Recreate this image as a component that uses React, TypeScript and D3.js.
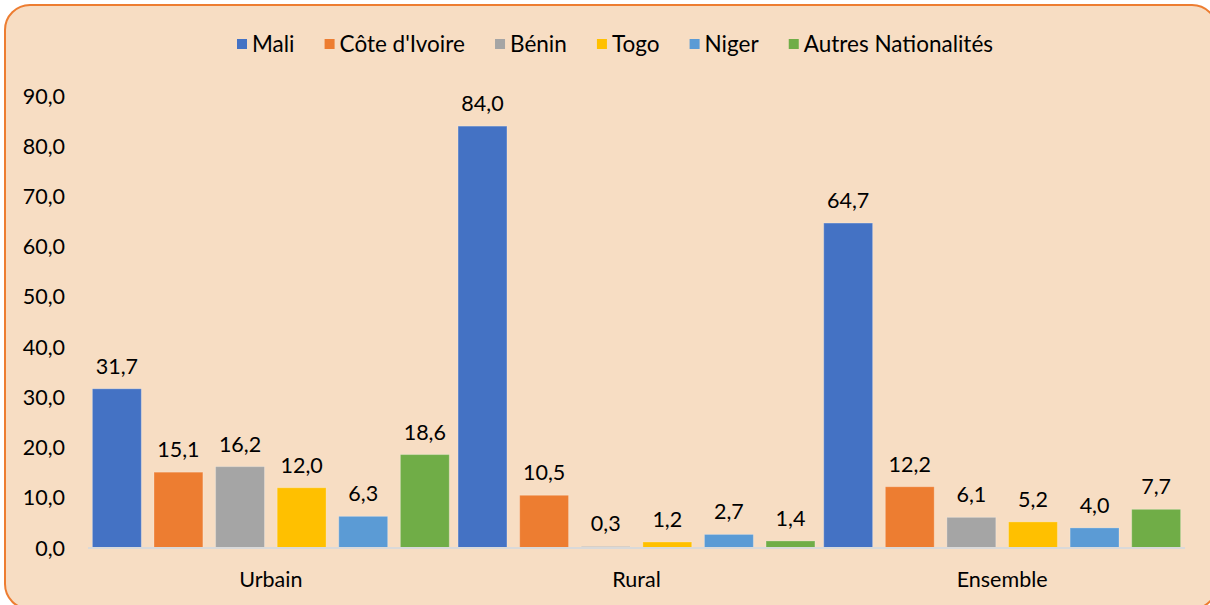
import React, { useEffect, useRef } from "react";
import * as d3 from "d3";

const categories = ["Urbain", "Rural", "Ensemble"];
const seriesNames = ["Mali", "Côte d'Ivoire", "Bénin", "Togo", "Niger", "Autres Nationalités"];
const seriesColors = ["#4472C4", "#ED7D31", "#A5A5A5", "#FFC000", "#5B9BD5", "#70AD47"];
const mali = [31.7, 84.0, 64.7];
const coteIvoire = [15.1, 10.5, 12.2];
const benin = [16.2, 0.3, 6.1];
const togo = [12.0, 1.2, 5.2];
const niger = [6.3, 2.7, 4.0];
const autres = [18.6, 1.4, 7.7];
const yTicks = [0, 10, 20, 30, 40, 50, 60, 70, 80, 90];

const W = 1210;
const H = 605;
const FONT = "Lato, 'Open Sans', sans-serif";
const FS = 21.5;

export default function App() {
  const ref = useRef<SVGSVGElement | null>(null);

  useEffect(() => {
    const svg = d3.select(ref.current);
    svg.selectAll("*").remove();
    const series = [mali, coteIvoire, benin, togo, niger, autres];
    const fmt = (v: number) => v.toFixed(1).replace(".", ",");

    svg
      .append("rect")
      .attr("x", 5)
      .attr("y", 5)
      .attr("width", 1212)
      .attr("height", 604)
      .attr("rx", 25)
      .attr("fill", "#F7DDC3")
      .attr("stroke", "#ED7D31")
      .attr("stroke-width", 2);

    const left = 88;
    const right = 1185;
    const y = d3.scaleLinear().domain([0, 90]).range([548, 96]);
    const x0 = d3.scaleBand<string>().domain(categories).range([left, right]).paddingInner(0).paddingOuter(0);
    const band = x0.bandwidth();
    const barW = band / (6 + 5 * 0.26 + 0.18);
    const step = barW * 1.26;
    const groupPad = (band - (5 * step + barW)) / 2;

    const g = svg.append("g");
    series.forEach((vals, si) => {
      vals.forEach((v, ci) => {
        const bx = (x0(categories[ci]) as number) + groupPad + si * step;
        g.append("rect")
          .attr("x", bx)
          .attr("y", y(v))
          .attr("width", barW)
          .attr("height", y(0) - y(v))
          .attr("fill", seriesColors[si])
          .attr("stroke", "rgba(255,255,255,0.25)")
          .attr("stroke-width", 1);
        g.append("text")
          .attr("x", bx + barW / 2)
          .attr("y", y(v) - 15)
          .attr("text-anchor", "middle")
          .attr("font-family", FONT)
          .attr("font-size", FS)
          .attr("fill", "#000")
          .text(fmt(v));
      });
    });

    svg
      .append("line")
      .attr("x1", left)
      .attr("x2", right)
      .attr("y1", y(0))
      .attr("y2", y(0))
      .attr("stroke", "#D9D9D9")
      .attr("stroke-width", 2);

    yTicks.forEach((t) => {
      svg
        .append("text")
        .attr("x", 65)
        .attr("y", y(t))
        .attr("dy", "0.35em")
        .attr("text-anchor", "end")
        .attr("font-family", FONT)
        .attr("font-size", FS)
        .attr("fill", "#000")
        .text(fmt(t));
    });

    categories.forEach((c) => {
      svg
        .append("text")
        .attr("x", (x0(c) as number) + band / 2)
        .attr("y", 579)
        .attr("dy", "0.35em")
        .attr("text-anchor", "middle")
        .attr("font-family", FONT)
        .attr("font-size", FS)
        .attr("fill", "#000")
        .text(c);
    });

    // legend
    const lg = svg.append("g");
    const items: { g: any; w: number }[] = [];
    seriesNames.forEach((n, i) => {
      const ig = lg.append("g");
      ig.append("rect").attr("x", 0).attr("y", -5).attr("width", 10).attr("height", 10).attr("fill", seriesColors[i]);
      const t = ig
        .append("text")
        .attr("x", 15)
        .attr("y", 0)
        .attr("dy", "0.35em")
        .attr("font-family", FONT)
        .attr("font-size", FS + 1)
        .attr("fill", "#000")
        .text(n);
      const tw = (t.node() as SVGTextElement).getComputedTextLength();
      items.push({ g: ig, w: 15 + tw });
    });
    const total0 = d3.sum(items, (d) => d.w);
    const gap = Math.max(12, (756 - total0) / (items.length - 1));
    const total = total0 + gap * (items.length - 1);
    let cx = (237 + 993) / 2 - total / 2;
    items.forEach((it) => {
      it.g.attr("transform", `translate(${cx},44)`);
      cx += it.w + gap;
    });
  }, []);

  return (
    <svg ref={ref} width={W} height={H} style={{ display: "block", position: "absolute", left: 0, top: 0 }} />
  );
}
